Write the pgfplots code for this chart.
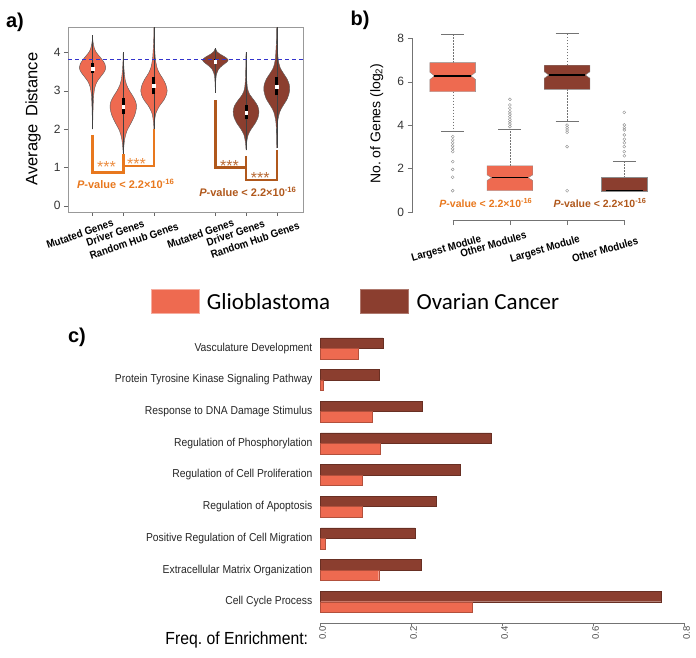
\documentclass[border=0pt]{standalone}
\usepackage{fontspec}
\setmainfont{Liberation Sans}
\newfontfamily\legfont{Carlito}
\newfontfamily\narrowfont[FakeStretch=0.9]{Liberation Sans}
\usepackage{pgfplots}
\usepackage{pgfplotstable}
\pgfplotsset{compat=1.18}

\definecolor{glio}{HTML}{EE6A50}
\definecolor{ovar}{HTML}{8B3E2F}
\definecolor{gorange}{HTML}{E8781E}
\definecolor{oorange}{HTML}{B0581C}
\definecolor{dashblue}{HTML}{3333CC}

% violin outlines: y and signed offset d from the centre (right side up, left side down)
\pgfplotstableread{
y d
2.00 0
2.30 0.01
2.60 0.02
2.90 0.04
3.10 0.08
3.25 0.16
3.40 0.30
3.50 0.39
3.60 0.43
3.70 0.40
3.80 0.32
3.90 0.22
4.00 0.12
4.10 0.06
4.20 0.03
4.30 0.01
4.45 0
4.30 -0.01
4.20 -0.03
4.10 -0.06
4.00 -0.12
3.90 -0.22
3.80 -0.32
3.70 -0.40
3.60 -0.43
3.50 -0.39
3.40 -0.30
3.25 -0.16
3.10 -0.08
2.90 -0.04
2.60 -0.02
2.30 -0.01
2.00 0
}\vA
\pgfplotstableread{
y d
1.35 0
1.55 0.02
1.75 0.05
1.95 0.12
2.15 0.25
2.35 0.37
2.55 0.43
2.70 0.41
2.85 0.32
3.00 0.20
3.15 0.11
3.30 0.06
3.50 0.03
3.75 0.01
4.00 0
3.75 -0.01
3.50 -0.03
3.30 -0.06
3.15 -0.11
3.00 -0.20
2.85 -0.32
2.70 -0.41
2.55 -0.43
2.35 -0.37
2.15 -0.25
1.95 -0.12
1.75 -0.05
1.55 -0.02
1.35 0
}\vB
\pgfplotstableread{
y d
2.00 0
2.20 0.02
2.40 0.06
2.60 0.18
2.75 0.32
2.90 0.41
3.00 0.43
3.15 0.39
3.30 0.30
3.45 0.18
3.60 0.10
3.80 0.05
4.00 0.03
4.30 0.01
4.65 0
4.30 -0.01
4.00 -0.03
3.80 -0.05
3.60 -0.10
3.45 -0.18
3.30 -0.30
3.15 -0.39
3.00 -0.43
2.90 -0.41
2.75 -0.32
2.60 -0.18
2.40 -0.06
2.20 -0.02
2.00 0
}\vC
\pgfplotstableread{
y d
2.95 0
3.20 0.01
3.40 0.03
3.55 0.10
3.65 0.22
3.75 0.38
3.80 0.42
3.87 0.33
3.95 0.16
4.02 0.05
4.10 0
4.02 -0.05
3.95 -0.16
3.87 -0.33
3.80 -0.42
3.75 -0.38
3.65 -0.22
3.55 -0.10
3.40 -0.03
3.20 -0.01
2.95 0
}\vD
\pgfplotstableread{
y d
1.45 0
1.65 0.02
1.85 0.07
2.00 0.17
2.15 0.30
2.30 0.39
2.45 0.42
2.60 0.38
2.75 0.26
2.90 0.12
3.05 0.05
3.30 0.02
3.60 0.01
4.00 0
3.60 -0.01
3.30 -0.02
3.05 -0.05
2.90 -0.12
2.75 -0.26
2.60 -0.38
2.45 -0.42
2.30 -0.39
2.15 -0.30
2.00 -0.17
1.85 -0.07
1.65 -0.02
1.45 0
}\vE
\pgfplotstableread{
y d
1.50 0
1.90 0.01
2.20 0.03
2.45 0.10
2.60 0.20
2.80 0.35
3.00 0.42
3.15 0.41
3.30 0.34
3.45 0.22
3.60 0.11
3.80 0.05
4.00 0.03
4.30 0.01
4.65 0
4.30 -0.01
4.00 -0.03
3.80 -0.05
3.60 -0.11
3.45 -0.22
3.30 -0.34
3.15 -0.41
3.00 -0.42
2.80 -0.35
2.60 -0.20
2.45 -0.10
2.20 -0.03
1.90 -0.01
1.50 0
}\vF

\newcommand\fsz[1]{\fontsize{#1}{#1}\selectfont}

\begin{document}
\begin{tikzpicture}
\useasboundingbox (0,0) rectangle (696pt,657pt);

% ---------------- panel a ----------------
\begin{axis}[
  at={(68pt,445pt)}, anchor=south west, scale only axis,
  width=235pt, height=185pt,
  xmin=0.2, xmax=7.855, ymin=-0.164, ymax=4.66,
  axis line style={black!40},
  tick pos=left, tick align=outside, major tick length=4pt,
  tick style={black!60},
  xtick={1,2,3,5,6,7},
  xticklabels=\empty,
  ytick={0,1,2,3,4},
  yticklabel style={font=\fsz{12}, text=black!80},
  /pgf/number format/assume math mode=true,
  clip=false,
]
\addplot[fill=glio, draw=black!65, line width=0.4pt, smooth] table[x expr=1+\thisrow{d}, y=y]{\vA} -- cycle;
\addplot[fill=glio, draw=black!65, line width=0.4pt, smooth] table[x expr=2+\thisrow{d}, y=y]{\vB} -- cycle;
\addplot[fill=glio, draw=black!65, line width=0.4pt, smooth] table[x expr=3+\thisrow{d}, y=y]{\vC} -- cycle;
\addplot[fill=ovar, draw=black!65, line width=0.4pt, smooth] table[x expr=5+\thisrow{d}, y=y]{\vD} -- cycle;
\addplot[fill=ovar, draw=black!65, line width=0.4pt, smooth] table[x expr=6+\thisrow{d}, y=y]{\vE} -- cycle;
\addplot[fill=ovar, draw=black!65, line width=0.4pt, smooth] table[x expr=7+\thisrow{d}, y=y]{\vF} -- cycle;
% central lines
\addplot[black!75, line width=0.5pt] coordinates {(1,2.00) (1,4.45)};
\addplot[black!75, line width=0.5pt] coordinates {(2,1.35) (2,4.00)};
\addplot[black!75, line width=0.5pt] coordinates {(3,2.00) (3,4.65)};
\addplot[black!75, line width=0.5pt] coordinates {(5,2.95) (5,4.10)};
\addplot[black!75, line width=0.5pt] coordinates {(6,1.45) (6,4.00)};
\addplot[black!75, line width=0.5pt] coordinates {(7,1.50) (7,4.65)};
% IQR bars
\addplot[black, line width=3pt] coordinates {(1,3.45) (1,3.72)};
\addplot[black, line width=3pt] coordinates {(2,2.38) (2,2.80)};
\addplot[black, line width=3pt] coordinates {(3,2.90) (3,3.36)};
\addplot[black, line width=3pt] coordinates {(5,3.70) (5,3.82)};
\addplot[black, line width=3pt] coordinates {(6,2.25) (6,2.62)};
\addplot[black, line width=3pt] coordinates {(7,2.88) (7,3.36)};
% medians
\addplot[only marks, mark=square*, mark size=1.3pt, white, mark options={draw=white}]
  coordinates {(1,3.57) (2,2.58) (3,3.13) (5,3.75) (6,2.42) (7,3.10)};
% reference line
\addplot[dashblue, line width=1pt, dash pattern=on 4pt off 3pt] coordinates {(0.2,3.82) (7.855,3.82)};
% brackets
\addplot[gorange, line width=2.5pt] coordinates {(1,1.85) (1,0.86) (2,0.86) (2,1.35)};
\addplot[gorange, line width=2.5pt] coordinates {(2,1.04) (3,1.04) (3,2.00)};
\addplot[oorange, line width=2.5pt] coordinates {(5,2.75) (5,0.99) (6,0.99)};
\addplot[oorange, line width=2.5pt] coordinates {(6,1.30) (6,0.67) (7,0.67) (7,1.45)};
\node[text=gorange!85!white, font=\fsz{16}] at (axis cs:1.456,1.00) {***};
\node[text=gorange!85!white, font=\fsz{16}] at (axis cs:2.433,1.087) {***};
\node[text=oorange!90!white, font=\fsz{16}] at (axis cs:5.46,1.043) {***};
\node[text=oorange!90!white, font=\fsz{16}] at (axis cs:6.46,0.722) {***};
\node[text=gorange, font=\bfseries\fsz{11}] at (axis cs:2.08,0.56) {\textit{P}-value < 2.2×10\textsuperscript{-16}};
\node[text=oorange, font=\bfseries\fsz{11}] at (axis cs:6.06,0.37) {\textit{P}-value < 2.2×10\textsuperscript{-16}};
\end{axis}

% ---------------- panel b ----------------
\begin{axis}[
  at={(412.66pt,436.97pt)}, anchor=south west, scale only axis,
  width=245.96pt, height=190.4pt,
  xmin=0.3, xmax=4.6, ymin=-0.37, ymax=8.4,
  axis lines*=left, axis line style={draw=none},
  tick align=outside, major tick length=5pt, tick style={black!55},
  xtick={1,2,3,4},
  xticklabels=\empty,
  ytick={0,2,4,6,8},
  yticklabel style={font=\fsz{12}, text=black!80},
  /pgf/number format/assume math mode=true,
  clip=false,
]
\draw[black!55] (axis cs:0.3,0) -- (axis cs:0.3,8);
\draw[black!55] (axis cs:1,-0.37) -- (axis cs:4,-0.37);
% whiskers
\addplot[black!55, dash pattern=on 1.5pt off 1.5pt] coordinates {(1,6.88) (1,8.18)};
\addplot[black!55, dash pattern=on 1.5pt off 1.5pt] coordinates {(1,5.54) (1,3.70)};
\addplot[black!55, dash pattern=on 1.5pt off 1.5pt] coordinates {(2,2.13) (2,3.81)};
\addplot[black!55, dash pattern=on 1.5pt off 1.5pt] coordinates {(3,6.76) (3,8.23)};
\addplot[black!55, dash pattern=on 1.5pt off 1.5pt] coordinates {(3,5.65) (3,4.16)};
\addplot[black!55, dash pattern=on 1.5pt off 1.5pt] coordinates {(4,1.58) (4,2.32)};
\addplot[black!55] coordinates {(0.8,8.18) (1.2,8.18)};
\addplot[black!55] coordinates {(0.8,3.70) (1.2,3.70)};
\addplot[black!55] coordinates {(1.8,3.81) (2.2,3.81)};
\addplot[black!55] coordinates {(2.8,8.23) (3.2,8.23)};
\addplot[black!55] coordinates {(2.8,4.16) (3.2,4.16)};
\addplot[black!55] coordinates {(3.8,2.32) (4.2,2.32)};
% notched boxes
\addplot[fill=glio, draw=black!45] coordinates {(0.6,5.54) (1.4,5.54) (1.4,6.10) (1.32,6.27) (1.4,6.44) (1.4,6.88) (0.6,6.88) (0.6,6.44) (0.68,6.27) (0.6,6.10)} -- cycle;
\addplot[fill=glio, draw=black!45] coordinates {(1.6,0.98) (2.4,0.98) (2.4,1.45) (2.32,1.58) (2.4,1.71) (2.4,2.13) (1.6,2.13) (1.6,1.71) (1.68,1.58) (1.6,1.45)} -- cycle;
\addplot[fill=ovar, draw=black!45] coordinates {(2.6,5.65) (3.4,5.65) (3.4,6.16) (3.32,6.31) (3.4,6.46) (3.4,6.76) (2.6,6.76) (2.6,6.46) (2.68,6.31) (2.6,6.16)} -- cycle;
\addplot[fill=ovar, draw=black!45] coordinates {(3.6,0.98) (4.4,0.98) (4.4,1.58) (3.6,1.58)} -- cycle;
% medians
\addplot[black, line width=1.5pt] coordinates {(0.68,6.27) (1.32,6.27)};
\addplot[black, line width=1.5pt] coordinates {(1.68,1.58) (2.32,1.58)};
\addplot[black, line width=1.5pt] coordinates {(2.68,6.31) (3.32,6.31)};
\addplot[black, line width=1.5pt] coordinates {(3.68,1.00) (4.32,1.00)};
% outliers
\addplot[only marks, mark=o, mark size=1.5pt, black!45, mark options={line width=0.4pt}] coordinates {
 (1,3.47) (1,3.32) (1,3.19) (1,3.05) (1,2.91) (1,2.78) (1,2.32) (1,1.96) (1,1.60) (1,0.98)
 (2,3.93) (2,4.05) (2,4.16) (2,4.27) (2,4.39) (2,4.51) (2,4.62) (2,4.78) (2,4.93) (2,5.19)
 (3,4.00) (3,3.88) (3,3.78) (3,3.67) (3,3.01) (3,0.98)
 (4,4.59) (4,4.01) (4,3.88) (4,3.78) (4,3.55) (4,3.35) (4,3.19) (4,3.01) (4,2.78) (4,2.59)};
\node[text=gorange, font=\bfseries\fsz{10.5}] at (axis cs:1.58,0.40) {\textit{P}-value < 2.2×10\textsuperscript{-16}};
\node[text=oorange, font=\bfseries\fsz{10.5}] at (axis cs:3.575,0.40) {\textit{P}-value < 2.2×10\textsuperscript{-16}};
\end{axis}

% ---------------- panel c ----------------
\begin{axis}[
  at={(320.5pt,33.7pt)}, anchor=south west, scale only axis,
  width=364pt, height=294pt,
  xmin=0, xmax=0.8, ymin=0.318, ymax=9.6,
  axis lines*=left, y axis line style={draw=none}, x axis line style={black!55},
  tick align=outside, major tick length=3pt,
  xtick={0,0.2,0.4,0.6,0.8},
  xticklabels={0.0,0.2,0.4,0.6,0.8},
  xtick style={black!55},
  xticklabel style={font=\fsz{9.5}, text=black!70, rotate=90, anchor=east, inner sep=0pt, yshift=-2pt},
  ytick={1,...,9},
  ytick style={draw=none},
  yticklabels={Cell Cycle Process,Extracellular Matrix Organization,Positive Regulation of Cell Migration,Regulation of Apoptosis,Regulation of Cell Proliferation,Regulation of Phosphorylation,Response to DNA Damage Stimulus,Protein Tyrosine Kinase Signaling Pathway,Vasculature Development},
  yticklabel style={font=\narrowfont\fsz{11.5}, text=black!85, inner sep=0pt, xshift=-5pt},
  clip=false,
]
\addplot[xbar, bar width=10.5pt, bar shift=5.25pt, fill=ovar, draw=ovar!75!black] coordinates {
 (0.748,1) (0.2215,2) (0.208,3) (0.254,4) (0.308,5) (0.375,6) (0.2245,7) (0.129,8) (0.137,9)};
\addplot[xbar, bar width=10.5pt, bar shift=-5.25pt, fill=glio, draw=glio!75!black] coordinates {
 (0.3345,1) (0.128,2) (0.010,3) (0.092,4) (0.092,5) (0.132,6) (0.114,7) (0.006,8) (0.082,9)};
\end{axis}

% ---------------- rotated category labels (panels a and b) ----------------
\tikzset{catlab/.style={font=\narrowfont\bfseries\fsz{10.8}, rotate=#1, anchor=north east, inner sep=0pt}}
\node[catlab=19] at (111.7pt,438.7pt) {Mutated Genes};
\node[catlab=19] at (142.7pt,438pt) {Driver Genes};
\node[catlab=19] at (176.7pt,435.3pt) {Random Hub Genes};
\node[catlab=19] at (232.3pt,438.7pt) {Mutated Genes};
\node[catlab=19] at (263pt,438pt) {Driver Genes};
\node[catlab=19] at (297.7pt,436pt) {Random Hub Genes};
\node[catlab=16] at (479.7pt,423pt) {Largest Module};
\node[catlab=16] at (525pt,426.3pt) {Other Modules};
\node[catlab=16] at (578.3pt,422.3pt) {Largest Module};
\node[catlab=16] at (636.7pt,420.7pt) {Other Modules};

% ---------------- labels, legend ----------------
\node[font=\fsz{16.5}, rotate=90] at (33pt,538pt) {Average\hspace{0.45em}Distance};
\node[font=\fsz{14}, rotate=90] at (376.7pt,533.3pt) {No.\ of Genes (log\textsubscript{2})};
\node[font=\bfseries\fsz{20}] at (15pt,635pt) {a)};
\node[font=\bfseries\fsz{20}] at (360pt,637pt) {b)};
\node[font=\bfseries\fsz{20}] at (77pt,319.5pt) {c)};
\node[font=\narrowfont\fsz{17.5}, anchor=east, inner sep=0pt] at (308.3pt,17pt) {Freq.\ of Enrichment:};

\fill[glio, draw=glio!55!white, line width=1pt] (151pt,343.7pt) rectangle (199pt,367.7pt);
\node[font=\legfont\fsz{23}, anchor=west, inner sep=0pt] at (206.7pt,355.5pt) {Glioblastoma};
\fill[ovar, draw=ovar!70!white, line width=1pt] (360.9pt,343.7pt) rectangle (408.9pt,367.7pt);
\node[font=\legfont\fsz{23}, anchor=west, inner sep=0pt] at (416.4pt,355.5pt) {Ovarian Cancer};
\end{tikzpicture}
\end{document}
